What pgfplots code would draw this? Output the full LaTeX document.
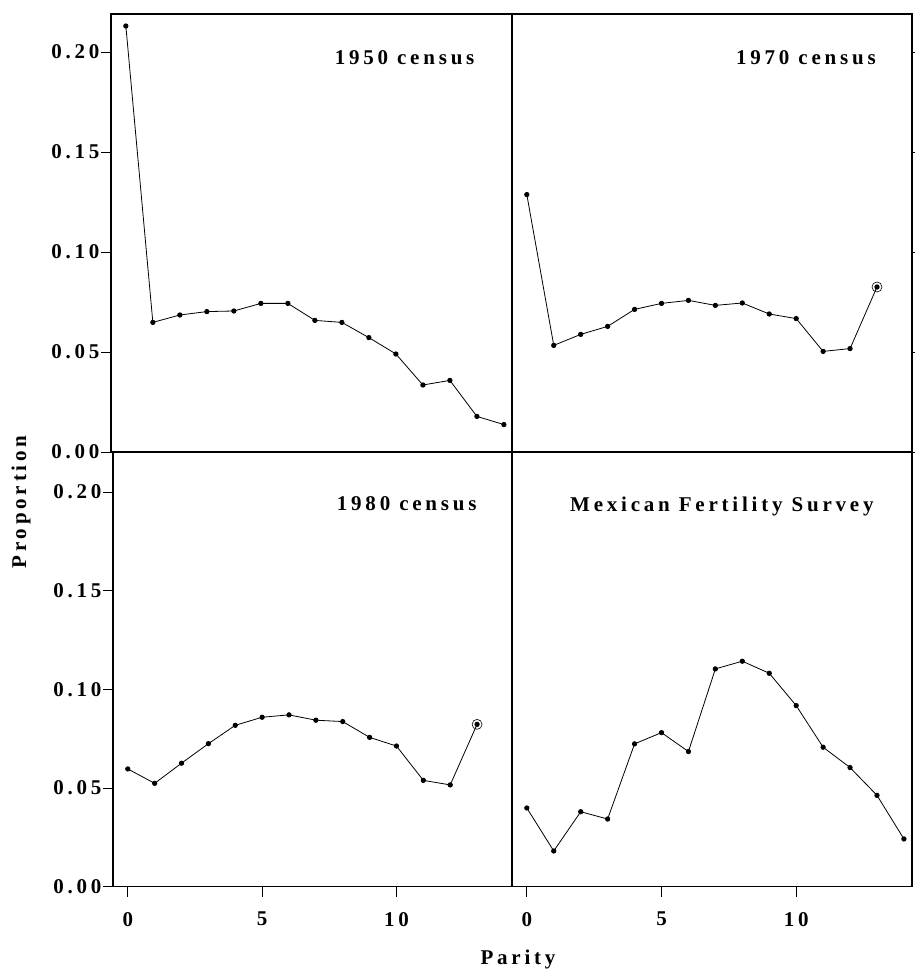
\documentclass[border=0pt]{standalone}
\usepackage{fontspec}
\setmainfont{Liberation Serif}[LetterSpace=18]
\usepackage{pgfplots}
\pgfplotsset{compat=1.18}

\newcommand{\lblfont}{\fontsize{21pt}{24pt}\selectfont\bfseries}

% parity distributions, one panel per source
\pgfplotsset{
  panel/.style={
    scale only axis,
    xmin=-0.55, xmax=14.3,
    axis line style={line width=1.4pt},
    tick style={black, line width=0.9pt},
    tick align=outside,
    major tick length=10pt,
    font=\lblfont,
    ytick={0,0.05,0.10,0.15,0.20},
    xtick={0,5,10},
    xticklabel style={yshift=-12pt},
    yticklabel style={xshift=2pt},
  },
  ser/.style={black, line width=0.8pt, mark=*, mark size=2.2pt, mark options={fill=black}},
  circ/.style={black, only marks, mark=o, mark size=5pt, line width=0.6pt},
}

\begin{document}
\begin{tikzpicture}
\useasboundingbox (0pt,0pt) rectangle (915pt,974pt);

% 1950
\begin{axis}[panel, at={(111pt,522pt)}, anchor=south west, width=401pt, height=438pt,
  ymin=0, ymax=0.219, xtick=\empty, ytick pos=left,
  yticklabels={0.00,0.05,0.10,0.15,0.20}]
\addplot[ser] coordinates {(0,0.213) (1,0.0648) (2,0.0685) (3,0.0702) (4,0.0705) (5,0.0743) (6,0.0743) (7,0.0658) (8,0.0648) (9,0.0572) (10,0.049) (11,0.0335) (12,0.0358) (13,0.0178) (14,0.0137)};
\node[anchor=north east] at (rel axis cs:0.915,0.925) {1950 census};
\end{axis}

% 1970
\begin{axis}[panel, at={(512pt,522pt)}, anchor=south west, width=400pt, height=438pt,
  ymin=0, ymax=0.219, xtick=\empty, ytick pos=right, yticklabels={}]
\addplot[ser] coordinates {(0,0.1287) (1,0.0533) (2,0.0588) (3,0.0628) (4,0.0713) (5,0.0743) (6,0.0758) (7,0.0733) (8,0.0745) (9,0.069) (10,0.0667) (11,0.0503) (12,0.0517) (13,0.0825)};
\addplot[circ] coordinates {(13,0.0825)};
\node[anchor=north east] at (rel axis cs:0.918,0.925) {1970 census};
\end{axis}

% 1980
\begin{axis}[panel, at={(113pt,87.3pt)}, anchor=south west, width=399pt, height=435pt,
  ymin=0, ymax=0.2205, ytick pos=left, xtick pos=bottom,
  yticklabels={0.00,0.05,0.10,0.15,0.20}, xticklabels={0,5,10}]
\addplot[ser] coordinates {(0,0.0597) (1,0.0524) (2,0.0626) (3,0.0725) (4,0.0818) (5,0.0859) (6,0.0871) (7,0.0844) (8,0.0837) (9,0.0757) (10,0.0713) (11,0.0539) (12,0.0516) (13,0.0823)};
\addplot[circ] coordinates {(13,0.0823)};
\node[anchor=north east] at (rel axis cs:0.92,0.905) {1980 census};
\end{axis}

% Mexican Fertility Survey
\begin{axis}[panel, at={(512pt,87.3pt)}, anchor=south west, width=400pt, height=435pt,
  ymin=0, ymax=0.2205, ytick=\empty, xtick pos=bottom, xticklabels={0,5,10}]
\addplot[ser] coordinates {(0,0.0399) (1,0.0181) (2,0.038) (3,0.0343) (4,0.0724) (5,0.0781) (6,0.0685) (7,0.1104) (8,0.1143) (9,0.1082) (10,0.0918) (11,0.0707) (12,0.0604) (13,0.0463) (14,0.0242)};
\node[anchor=north east] at (rel axis cs:0.9125,0.905) {Mexican Fertility Survey};
\end{axis}

\node[rotate=90, font=\lblfont] at (21pt,472pt) {Proportion};
\node[font=\lblfont] at (518pt,15pt) {Parity};
\end{tikzpicture}
\end{document}
